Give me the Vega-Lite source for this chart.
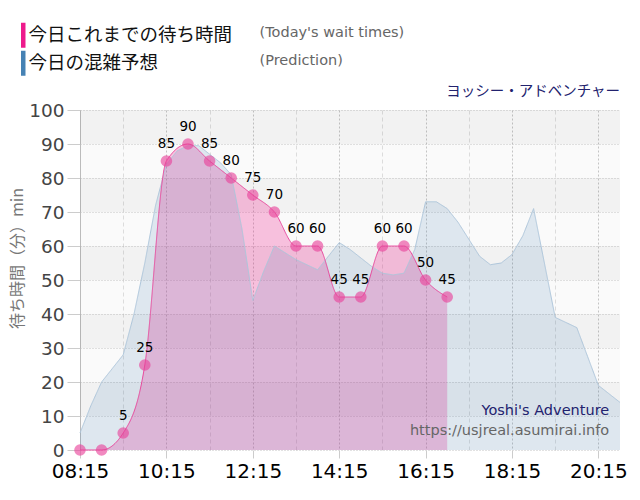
{
  "$schema": "https://vega.github.io/schema/vega-lite/v6.json",
  "width": 540,
  "height": 340,
  "autosize": "none",
  "padding": {"left": 80, "top": 110, "right": 20, "bottom": 50},
  "background": "white",
  "config": {"view": {"fill": "#fafafa", "stroke": null}, "font": "DejaVu Sans", "axisY": {"labelOverlap": false, "tickCount": 11}},
  "title": {"text": "ヨッシー・アドベンチャー", "anchor": "end", "frame": "group", "color": "#22226e", "font": "Noto Sans CJK JP", "fontSize": 14.5, "fontWeight": "normal", "offset": 12, "dy": 85},
  "datasets": {
    "bands": [{"lo": 90, "hi": 100}, {"lo": 70, "hi": 80}, {"lo": 50, "hi": 60}, {"lo": 30, "hi": 40}, {"lo": 10, "hi": 20}],
    "wait": [
      {"t": "2024-01-01T08:15", "v": 0, "series": "今日これまでの待ち時間", "en": "(Today's wait times)"},
      {"t": "2024-01-01T08:45", "v": 0, "series": "今日これまでの待ち時間", "en": "(Today's wait times)"},
      {"t": "2024-01-01T09:15", "v": 5, "series": "今日これまでの待ち時間", "en": "(Today's wait times)"},
      {"t": "2024-01-01T09:45", "v": 25, "series": "今日これまでの待ち時間", "en": "(Today's wait times)"},
      {"t": "2024-01-01T10:15", "v": 85, "series": "今日これまでの待ち時間", "en": "(Today's wait times)"},
      {"t": "2024-01-01T10:45", "v": 90, "series": "今日これまでの待ち時間", "en": "(Today's wait times)"},
      {"t": "2024-01-01T11:15", "v": 85, "series": "今日これまでの待ち時間", "en": "(Today's wait times)"},
      {"t": "2024-01-01T11:45", "v": 80, "series": "今日これまでの待ち時間", "en": "(Today's wait times)"},
      {"t": "2024-01-01T12:15", "v": 75, "series": "今日これまでの待ち時間", "en": "(Today's wait times)"},
      {"t": "2024-01-01T12:45", "v": 70, "series": "今日これまでの待ち時間", "en": "(Today's wait times)"},
      {"t": "2024-01-01T13:15", "v": 60, "series": "今日これまでの待ち時間", "en": "(Today's wait times)"},
      {"t": "2024-01-01T13:45", "v": 60, "series": "今日これまでの待ち時間", "en": "(Today's wait times)"},
      {"t": "2024-01-01T14:15", "v": 45, "series": "今日これまでの待ち時間", "en": "(Today's wait times)"},
      {"t": "2024-01-01T14:45", "v": 45, "series": "今日これまでの待ち時間", "en": "(Today's wait times)"},
      {"t": "2024-01-01T15:15", "v": 60, "series": "今日これまでの待ち時間", "en": "(Today's wait times)"},
      {"t": "2024-01-01T15:45", "v": 60, "series": "今日これまでの待ち時間", "en": "(Today's wait times)"},
      {"t": "2024-01-01T16:15", "v": 50, "series": "今日これまでの待ち時間", "en": "(Today's wait times)"},
      {"t": "2024-01-01T16:45", "v": 45, "series": "今日これまでの待ち時間", "en": "(Today's wait times)"}
    ],
    "pred": [
      {"t": "2024-01-01T08:15", "v": 5, "series": "今日の混雑予想", "en": "(Prediction)"},
      {"t": "2024-01-01T08:30", "v": 13, "series": "今日の混雑予想", "en": "(Prediction)"},
      {"t": "2024-01-01T08:45", "v": 20, "series": "今日の混雑予想", "en": "(Prediction)"},
      {"t": "2024-01-01T09:00", "v": 24, "series": "今日の混雑予想", "en": "(Prediction)"},
      {"t": "2024-01-01T09:15", "v": 28, "series": "今日の混雑予想", "en": "(Prediction)"},
      {"t": "2024-01-01T09:30", "v": 40, "series": "今日の混雑予想", "en": "(Prediction)"},
      {"t": "2024-01-01T09:45", "v": 55, "series": "今日の混雑予想", "en": "(Prediction)"},
      {"t": "2024-01-01T10:00", "v": 72, "series": "今日の混雑予想", "en": "(Prediction)"},
      {"t": "2024-01-01T10:15", "v": 84, "series": "今日の混雑予想", "en": "(Prediction)"},
      {"t": "2024-01-01T10:30", "v": 88, "series": "今日の混雑予想", "en": "(Prediction)"},
      {"t": "2024-01-01T10:45", "v": 89.5, "series": "今日の混雑予想", "en": "(Prediction)"},
      {"t": "2024-01-01T11:00", "v": 89.5, "series": "今日の混雑予想", "en": "(Prediction)"},
      {"t": "2024-01-01T11:15", "v": 87, "series": "今日の混雑予想", "en": "(Prediction)"},
      {"t": "2024-01-01T11:30", "v": 84.5, "series": "今日の混雑予想", "en": "(Prediction)"},
      {"t": "2024-01-01T11:45", "v": 81, "series": "今日の混雑予想", "en": "(Prediction)"},
      {"t": "2024-01-01T12:00", "v": 65, "series": "今日の混雑予想", "en": "(Prediction)"},
      {"t": "2024-01-01T12:15", "v": 44, "series": "今日の混雑予想", "en": "(Prediction)"},
      {"t": "2024-01-01T12:30", "v": 52.5, "series": "今日の混雑予想", "en": "(Prediction)"},
      {"t": "2024-01-01T12:45", "v": 60, "series": "今日の混雑予想", "en": "(Prediction)"},
      {"t": "2024-01-01T13:00", "v": 58, "series": "今日の混雑予想", "en": "(Prediction)"},
      {"t": "2024-01-01T13:15", "v": 56, "series": "今日の混雑予想", "en": "(Prediction)"},
      {"t": "2024-01-01T13:30", "v": 54.5, "series": "今日の混雑予想", "en": "(Prediction)"},
      {"t": "2024-01-01T13:45", "v": 53, "series": "今日の混雑予想", "en": "(Prediction)"},
      {"t": "2024-01-01T14:00", "v": 57, "series": "今日の混雑予想", "en": "(Prediction)"},
      {"t": "2024-01-01T14:15", "v": 61, "series": "今日の混雑予想", "en": "(Prediction)"},
      {"t": "2024-01-01T14:30", "v": 59, "series": "今日の混雑予想", "en": "(Prediction)"},
      {"t": "2024-01-01T14:45", "v": 56.5, "series": "今日の混雑予想", "en": "(Prediction)"},
      {"t": "2024-01-01T15:00", "v": 54, "series": "今日の混雑予想", "en": "(Prediction)"},
      {"t": "2024-01-01T15:15", "v": 52, "series": "今日の混雑予想", "en": "(Prediction)"},
      {"t": "2024-01-01T15:30", "v": 51.5, "series": "今日の混雑予想", "en": "(Prediction)"},
      {"t": "2024-01-01T15:45", "v": 52, "series": "今日の混雑予想", "en": "(Prediction)"},
      {"t": "2024-01-01T16:00", "v": 59, "series": "今日の混雑予想", "en": "(Prediction)"},
      {"t": "2024-01-01T16:15", "v": 73, "series": "今日の混雑予想", "en": "(Prediction)"},
      {"t": "2024-01-01T16:30", "v": 73, "series": "今日の混雑予想", "en": "(Prediction)"},
      {"t": "2024-01-01T16:45", "v": 71, "series": "今日の混雑予想", "en": "(Prediction)"},
      {"t": "2024-01-01T17:00", "v": 67, "series": "今日の混雑予想", "en": "(Prediction)"},
      {"t": "2024-01-01T17:15", "v": 62, "series": "今日の混雑予想", "en": "(Prediction)"},
      {"t": "2024-01-01T17:30", "v": 57, "series": "今日の混雑予想", "en": "(Prediction)"},
      {"t": "2024-01-01T17:45", "v": 54.5, "series": "今日の混雑予想", "en": "(Prediction)"},
      {"t": "2024-01-01T18:00", "v": 55, "series": "今日の混雑予想", "en": "(Prediction)"},
      {"t": "2024-01-01T18:15", "v": 57.5, "series": "今日の混雑予想", "en": "(Prediction)"},
      {"t": "2024-01-01T18:30", "v": 63, "series": "今日の混雑予想", "en": "(Prediction)"},
      {"t": "2024-01-01T18:45", "v": 71, "series": "今日の混雑予想", "en": "(Prediction)"},
      {"t": "2024-01-01T19:00", "v": 55, "series": "今日の混雑予想", "en": "(Prediction)"},
      {"t": "2024-01-01T19:15", "v": 39, "series": "今日の混雑予想", "en": "(Prediction)"},
      {"t": "2024-01-01T19:30", "v": 37.5, "series": "今日の混雑予想", "en": "(Prediction)"},
      {"t": "2024-01-01T19:45", "v": 36, "series": "今日の混雑予想", "en": "(Prediction)"},
      {"t": "2024-01-01T20:00", "v": 27.5, "series": "今日の混雑予想", "en": "(Prediction)"},
      {"t": "2024-01-01T20:15", "v": 19, "series": "今日の混雑予想", "en": "(Prediction)"},
      {"t": "2024-01-01T20:30", "v": 16.5, "series": "今日の混雑予想", "en": "(Prediction)"},
      {"t": "2024-01-01T20:45", "v": 14, "series": "今日の混雑予想", "en": "(Prediction)"}
    ]
  },
  "layer": [
    {
      "data": {"name": "bands"},
      "mark": {"type": "rect", "fill": "#000000", "opacity": 0.032},
      "encoding": {
        "y": {
          "field": "lo", "type": "quantitative",
          "scale": {"domain": [0, 100], "nice": false},
          "axis": {
            "values": [0, 10, 20, 30, 40, 50, 60, 70, 80, 90, 100],
            "labelOverlap": false, "tickCount": 11,
            "grid": true, "gridColor": "#c4c4c4", "gridDash": [1, 2],
            "domainColor": "#bbbbbb", "tickColor": "#cccccc", "tickSize": 13,
            "labelFontSize": 18.5, "labelColor": "#444444", "labelPadding": 3,
            "title": "待ち時間（分）min", "titleFont": "Noto Sans CJK JP", "titleFontSize": 16,
            "titleFontWeight": "normal", "titleColor": "#777777", "titleAngle": 270,
            "titleX": -63, "titleY": 148, "titleAlign": "center", "titleBaseline": "middle"
          }
        },
        "y2": {"field": "hi"}
      }
    },
    {
      "data": {"name": "wait"},
      "mark": {"type": "area", "interpolate": "monotone", "fillOpacity": 0.26},
      "encoding": {
        "x": {"field": "t", "type": "temporal"},
        "y": {"field": "v", "type": "quantitative"},
        "color": {
          "field": "series", "type": "nominal",
          "scale": {"domain": ["今日これまでの待ち時間", "今日の混雑予想"], "range": ["#ee1a8c", "#4682b4"]},
          "legend": {
            "orient": "none", "legendX": -66, "legendY": -84, "title": null, "padding": 0,
            "symbolType": "M-0.9,-5H0.9V5H-0.9Z", "symbolSize": 25, "symbolOpacity": 1, "symbolStrokeWidth": 0,
            "labelFont": "Noto Sans CJK JP", "labelFontSize": 18.5, "labelColor": "#111111", "labelLimit": 400,
            "labelOffset": -4, "rowPadding": 2
          }
        }
      }
    },
    {
      "data": {"name": "pred"},
      "mark": {"type": "area", "interpolate": "linear", "fillOpacity": 0.15},
      "encoding": {
        "x": {
          "field": "t", "type": "temporal",
          "scale": {"domain": [{"year": 2024, "month": 1, "date": 1, "hours": 8, "minutes": 15}, {"year": 2024, "month": 1, "date": 1, "hours": 20, "minutes": 45}], "nice": false},
          "axis": {
            "values": [
              {"year": 2024, "month": 1, "date": 1, "hours": 8, "minutes": 15},
              {"year": 2024, "month": 1, "date": 1, "hours": 8, "minutes": 45},
              {"year": 2024, "month": 1, "date": 1, "hours": 9, "minutes": 15},
              {"year": 2024, "month": 1, "date": 1, "hours": 9, "minutes": 45},
              {"year": 2024, "month": 1, "date": 1, "hours": 10, "minutes": 15},
              {"year": 2024, "month": 1, "date": 1, "hours": 10, "minutes": 45},
              {"year": 2024, "month": 1, "date": 1, "hours": 11, "minutes": 15},
              {"year": 2024, "month": 1, "date": 1, "hours": 11, "minutes": 45},
              {"year": 2024, "month": 1, "date": 1, "hours": 12, "minutes": 15},
              {"year": 2024, "month": 1, "date": 1, "hours": 12, "minutes": 45},
              {"year": 2024, "month": 1, "date": 1, "hours": 13, "minutes": 15},
              {"year": 2024, "month": 1, "date": 1, "hours": 13, "minutes": 45},
              {"year": 2024, "month": 1, "date": 1, "hours": 14, "minutes": 15},
              {"year": 2024, "month": 1, "date": 1, "hours": 14, "minutes": 45},
              {"year": 2024, "month": 1, "date": 1, "hours": 15, "minutes": 15},
              {"year": 2024, "month": 1, "date": 1, "hours": 15, "minutes": 45},
              {"year": 2024, "month": 1, "date": 1, "hours": 16, "minutes": 15},
              {"year": 2024, "month": 1, "date": 1, "hours": 16, "minutes": 45},
              {"year": 2024, "month": 1, "date": 1, "hours": 17, "minutes": 15},
              {"year": 2024, "month": 1, "date": 1, "hours": 17, "minutes": 45},
              {"year": 2024, "month": 1, "date": 1, "hours": 18, "minutes": 15},
              {"year": 2024, "month": 1, "date": 1, "hours": 18, "minutes": 45},
              {"year": 2024, "month": 1, "date": 1, "hours": 19, "minutes": 15},
              {"year": 2024, "month": 1, "date": 1, "hours": 19, "minutes": 45},
              {"year": 2024, "month": 1, "date": 1, "hours": 20, "minutes": 15},
              {"year": 2024, "month": 1, "date": 1, "hours": 20, "minutes": 45}
            ],
            "labelExpr": "(hours(datum.value) % 2 == 0 && minutes(datum.value) == 15) ? timeFormat(datum.value, '%H:%M') : ''",
            "labelFontSize": 20, "labelColor": "#000000", "labelPadding": 3, "labelFlush": false, "labelOverlap": false,
            "domain": false, "tickSize": 8, "tickColor": "#cccccc",
            "tickOpacity": {"condition": {"test": "hours(datum.value) % 2 == 0 && minutes(datum.value) == 15", "value": 1}, "value": 0},
            "grid": true,
            "gridColor": {"condition": {"test": "hours(datum.value) % 2 == 0 && minutes(datum.value) == 15", "value": "#c4c4c4"}, "value": "#dcdcdc"},
            "gridDash": {"condition": {"test": "hours(datum.value) % 2 == 0 && minutes(datum.value) == 15", "value": [2, 2]}, "value": [4, 3]},
            "title": null
          }
        },
        "y": {"field": "v", "type": "quantitative"},
        "color": {"field": "series", "type": "nominal"}
      }
    },
    {
      "data": {"name": "pred"},
      "mark": {"type": "line", "interpolate": "linear", "color": "#aec6db", "strokeWidth": 1},
      "encoding": {
        "x": {"field": "t", "type": "temporal"},
        "y": {"field": "v", "type": "quantitative"},
        "strokeDash": {
          "field": "en", "type": "nominal",
          "scale": {"domain": ["(Today's wait times)", "(Prediction)"], "range": [[1, 0], [1, 0]]},
          "legend": {
            "orient": "none", "legendX": 163, "legendY": -84, "title": null, "padding": 0,
            "symbolType": "M-0.9,-5H0.9V5H-0.9Z", "symbolSize": 25, "symbolOpacity": 0,
            "labelFont": "DejaVu Sans", "labelFontSize": 14.5, "labelColor": "#666666", "labelLimit": 400,
            "labelOffset": 2, "rowPadding": 2
          }
        }
      }
    },
    {
      "data": {"name": "wait"},
      "mark": {"type": "line", "interpolate": "monotone", "color": "#e8489c", "strokeWidth": 1},
      "encoding": {
        "x": {"field": "t", "type": "temporal"},
        "y": {"field": "v", "type": "quantitative"},
        "strokeDash": {"field": "en", "type": "nominal"}
      }
    },
    {
      "data": {"name": "wait"},
      "mark": {"type": "circle", "size": 135, "color": "#e8409a", "opacity": 0.62},
      "encoding": {
        "x": {"field": "t", "type": "temporal"},
        "y": {"field": "v", "type": "quantitative"}
      }
    },
    {
      "data": {"name": "wait"},
      "transform": [{"filter": "datum.v > 0"}],
      "mark": {"type": "text", "dy": -17, "fontSize": 13.5, "color": "#000000", "baseline": "middle"},
      "encoding": {
        "x": {"field": "t", "type": "temporal"},
        "y": {"field": "v", "type": "quantitative"},
        "text": {"field": "v", "type": "quantitative"}
      }
    },
    {
      "data": {"values": [{"txt": "Yoshi's Adventure"}]},
      "mark": {"type": "text", "align": "right", "baseline": "middle", "fontSize": 14.5, "color": "#22226e"},
      "encoding": {
        "x": {"datum": {"year": 2024, "month": 1, "date": 1, "hours": 20, "minutes": 30}, "type": "temporal"},
        "y": {"datum": 11.5, "type": "quantitative"},
        "text": {"field": "txt"}
      }
    },
    {
      "data": {"values": [{"txt": "https://usjreal.asumirai.info"}]},
      "mark": {"type": "text", "align": "right", "baseline": "middle", "fontSize": 14.5, "color": "#666666"},
      "encoding": {
        "x": {"datum": {"year": 2024, "month": 1, "date": 1, "hours": 20, "minutes": 30}, "type": "temporal"},
        "y": {"datum": 5.7, "type": "quantitative"},
        "text": {"field": "txt"}
      }
    }
  ]
}
